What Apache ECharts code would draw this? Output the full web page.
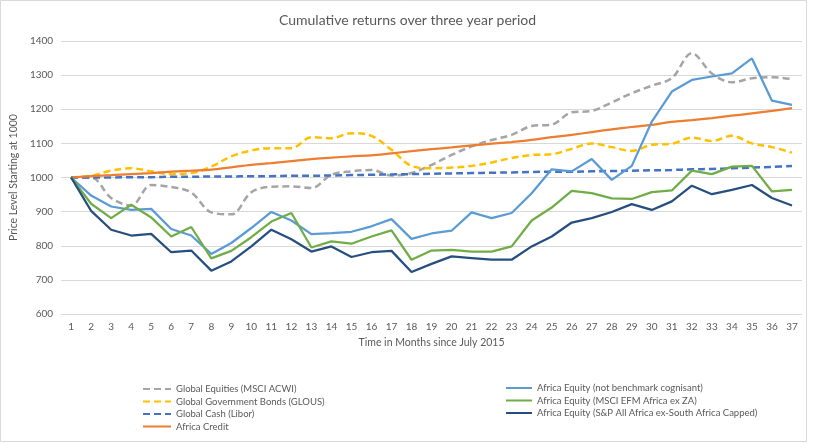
<!DOCTYPE html>
<html>
<head>
<meta charset="utf-8">
<script src="https://cdn.jsdelivr.net/npm/echarts@6/dist/echarts.min.js"></script>
<style>
html,body{margin:0;padding:0;background:#fff;}
#chart{width:815px;height:443px;}
</style>
</head>
<body>
<div id="chart"></div>
<script>
var months = ['1','2','3','4','5','6','7','8','9','10','11','12','13','14','15','16','17','18','19','20','21','22','23','24','25','26','27','28','29','30','31','32','33','34','35','36','37'];
var yTicks = [600, 700, 800, 900, 1000, 1100, 1200, 1300, 1400];

var globalEquities = [1000,1000,940,918,978,972,956,898,892,957,973,974,969,1008,1018,1022,1006,1013,1037,1066,1091,1110,1125,1151,1155,1191,1195,1220,1247,1269,1291,1364,1305,1279,1291,1294,1288];
var globalBonds = [1000,1005,1020,1027,1018,1010,1013,1032,1062,1079,1086,1086,1118,1115,1130,1122,1081,1034,1027,1029,1034,1044,1057,1066,1068,1084,1100,1089,1078,1096,1099,1117,1107,1122,1100,1089,1073];
var globalCash = [1000,1000,1000,1001,1001,1002,1002,1003,1003,1004,1004,1005,1005,1006,1007,1008,1009,1010,1011,1012,1013,1014,1015,1016,1017,1017,1018,1019,1020,1021,1022,1024,1025,1027,1029,1031,1034];
var africaCredit = [1000,1004,1007,1010,1013,1017,1020,1023,1030,1037,1042,1048,1054,1058,1062,1065,1071,1077,1083,1088,1094,1099,1104,1110,1118,1125,1133,1141,1148,1154,1163,1168,1174,1181,1188,1195,1203];
var africaNotBench = [1000,947,915,905,908,849,830,776,808,852,899,874,834,837,841,857,878,820,836,844,898,881,896,954,1024,1018,1054,993,1034,1164,1252,1286,1296,1305,1349,1225,1213];
var africaMsci = [1000,923,881,920,883,827,855,763,785,825,871,896,795,813,806,827,845,759,786,788,783,783,798,874,912,961,954,939,937,957,962,1020,1010,1032,1034,959,964];
var africaSP = [1000,902,847,830,835,781,786,727,754,798,847,819,783,798,767,781,785,723,747,769,764,759,759,798,827,868,881,899,922,905,930,976,951,964,978,940,918];

var FONT = 'Lato, "Open Sans", sans-serif';
var TXT = '#595959';
var GRID = '#d9d9d9';

function line(name, data, color, dashed, smooth) {
  return {
    name: name,
    type: 'line',
    data: data,
    symbol: 'none',
    smooth: smooth ? 0.35 : false,
    lineStyle: {color: color, width: dashed ? 2.5 : 2.25, type: dashed ? [7, 4] : 'solid'},
    itemStyle: {color: color},
    emphasis: {disabled: true}
  };
}

var legendCommon = {
  orient: 'vertical',
  itemHeight: 12,
  itemGap: 2.5,
  itemStyle: {opacity: 0},
  textStyle: {fontFamily: FONT, fontSize: 9.5, color: TXT}
};

var chart = echarts.init(document.getElementById('chart'));
chart.setOption({
  animation: false,
  backgroundColor: '#fff',
  textStyle: {fontFamily: FONT},
  title: {
    text: 'Cumulative returns over three year period',
    left: 'center',
    top: 8,
    textStyle: {fontFamily: FONT, fontSize: 14, fontWeight: 'normal', color: TXT}
  },
  graphic: [{
    type: 'rect',
    shape: {x: 0.5, y: 0.5, width: 806, height: 441},
    style: {fill: 'none', stroke: GRID, lineWidth: 1},
    silent: true
  }],
  grid: {left: 60, right: 13, top: 41, bottom: 129},
  legend: [
    Object.assign({}, legendCommon, {
      left: 137, top: 379, itemWidth: 28,
      data: ['Global Equities (MSCI ACWI)', 'Global Government Bonds (GLOUS)', 'Global Cash (Libor)', 'Africa Credit']
    }),
    Object.assign({}, legendCommon, {
      left: 500, top: 378, itemWidth: 26,
      data: ['Africa Equity (not benchmark cognisant)', 'Africa Equity (MSCI EFM Africa ex ZA)', 'Africa Equity (S&P All Africa ex-South Africa Capped)']
    })
  ],
  xAxis: {
    type: 'category',
    data: months,
    boundaryGap: true,
    name: 'Time in Months since July 2015',
    nameLocation: 'middle',
    nameGap: 23,
    nameTextStyle: {fontFamily: FONT, fontSize: 10.5, color: TXT},
    axisLine: {lineStyle: {color: GRID}},
    axisTick: {show: false},
    axisLabel: {fontFamily: FONT, fontSize: 10, color: TXT, margin: 8, interval: 0}
  },
  yAxis: {
    type: 'value',
    min: yTicks[0],
    max: yTicks[yTicks.length - 1],
    interval: yTicks[1] - yTicks[0],
    name: 'Price Level Starting at 1000',
    nameLocation: 'middle',
    nameRotate: 90,
    nameGap: 33,
    nameTextStyle: {fontFamily: FONT, fontSize: 10.5, color: TXT},
    axisLine: {show: false},
    axisTick: {show: false},
    splitLine: {lineStyle: {color: GRID}},
    axisLabel: {fontFamily: FONT, fontSize: 10, color: TXT, margin: 8, formatter: function (v) { return String(v); }}
  },
  series: [
    line('Global Equities (MSCI ACWI)', globalEquities, '#a5a5a5', true, true),
    line('Global Government Bonds (GLOUS)', globalBonds, '#ffc000', true, true),
    line('Global Cash (Libor)', globalCash, '#4472c4', true, true),
    line('Africa Credit', africaCredit, '#ed7d31', false, true),
    line('Africa Equity (not benchmark cognisant)', africaNotBench, '#5b9bd5', false, false),
    line('Africa Equity (MSCI EFM Africa ex ZA)', africaMsci, '#70ad47', false, false),
    line('Africa Equity (S&P All Africa ex-South Africa Capped)', africaSP, '#264f7f', false, false)
  ]
});
</script>
</body>
</html>
